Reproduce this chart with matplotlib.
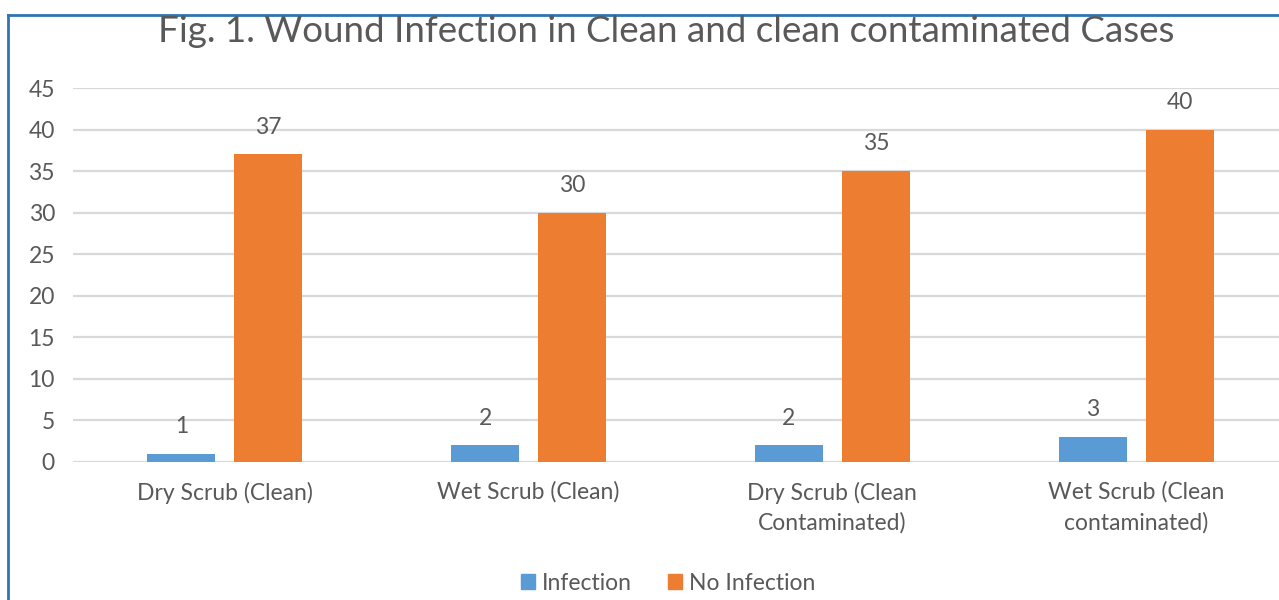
import numpy as np
import matplotlib.pyplot as plt
from matplotlib.patches import Patch
from matplotlib.lines import Line2D

# data
categories = ['Dry Scrub (Clean)', 'Wet Scrub (Clean)',
              'Dry Scrub (Clean\nContaminated)', 'Wet Scrub (Clean\ncontaminated)']
infection = [1, 2, 2, 3]
no_infection = [37, 30, 35, 40]
series_names = ['Infection', 'No Infection']
yticks = [0, 5, 10, 15, 20, 25, 30, 35, 40, 45]

blue = '#5B9BD5'
orange = '#ED7D31'
txt = '#595959'
fs = 16.5
plt.rcParams['font.family'] = ['Lato', 'DejaVu Sans']

fig = plt.figure(figsize=(12.79, 6.0), dpi=100)
W, H = 1279, 600

# axes in pixel coords: x 73..1288, y 88 (45) .. 462 (0)
ax = fig.add_axes([73 / W, 1 - 462 / H, (1288 - 73) / W, (462 - 88) / H])

x = np.arange(len(categories))
w = 0.224
off = 0.1435
b1 = ax.bar(x - off, infection, w, color=blue, zorder=3)
b2 = ax.bar(x + off, no_infection, w, color=orange, zorder=3)

for bars, vals in ((b1, infection), (b2, no_infection)):
    for r, v in zip(bars, vals):
        ax.annotate(str(v), (r.get_x() + r.get_width() / 2, v), xytext=(0, 12),
                    textcoords='offset points', ha='center', va='bottom',
                    fontsize=fs, color=txt)

ax.set_xlim(-0.5, len(categories) - 0.5)
ax.set_ylim(0, 45)
ax.set_yticks(yticks)
ax.set_xticks(x)
ax.set_xticklabels(categories, fontsize=fs, color=txt, linespacing=1.5)
ax.tick_params(axis='y', labelsize=fs, labelcolor=txt, length=0, pad=13)
ax.tick_params(axis='x', length=0, pad=14)
ax.grid(axis='y', color='#D9D9D9', linewidth=1.6, zorder=0)
for s in ax.spines.values():
    s.set_visible(False)

fig.text(666 / W, 1 - 32 / H, 'Fig. 1. Wound Infection in Clean and clean contaminated Cases',
         ha='center', va='center', fontsize=26.5, color=txt)

handles = [Patch(color=blue), Patch(color=orange)]
fig.legend(handles, series_names, loc='center', bbox_to_anchor=(668 / W, 1 - 583 / H),
           ncol=2, frameon=False, fontsize=fs, labelcolor=txt,
           handlelength=0.6, handleheight=0.6, handletextpad=0.3, columnspacing=1.6)

# chart frame (top and left edges visible)
frame_col = '#2E75B6'
fig.add_artist(Line2D([8 / W, 1], [1 - 15 / H, 1 - 15 / H], color=frame_col, lw=2,
                      transform=fig.transFigure))
fig.add_artist(Line2D([8 / W, 8 / W], [0, 1 - 15 / H], color=frame_col, lw=2,
                      transform=fig.transFigure))

fig.savefig('out.png', dpi=100)
